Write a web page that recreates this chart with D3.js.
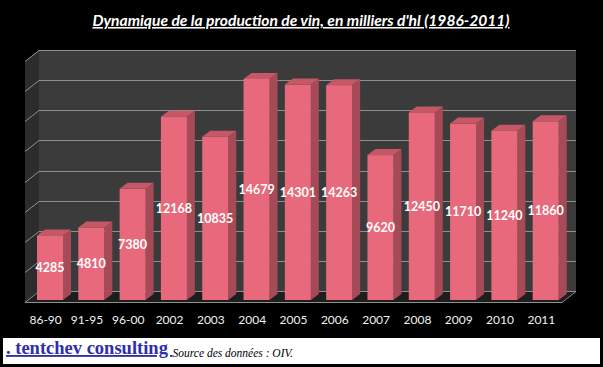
<!DOCTYPE html>
<html>
<head>
<meta charset="utf-8">
<script src="https://cdn.jsdelivr.net/npm/d3@7"></script>
<style>
  body { margin: 0; background: #000; }
  svg { display: block; }
</style>
</head>
<body>
<script>
// data
var categories = ["86-90", "91-95", "96-00", "2002", "2003", "2004", "2005", "2006", "2007", "2008", "2009", "2010", "2011"];
var production = [4285, 4810, 7380, 12168, 10835, 14679, 14301, 14263, 9620, 12450, 11710, 11240, 11860];
var yTicks = [0, 2000, 4000, 6000, 8000, 10000, 12000, 14000, 16000];

const width = 603, height = 367;
const DX = 14, DY = -11;      // wall depth (front -> back)
const BDX = 8, BDY = -6;      // bar depth
const barOff = 12, barW = 26;

const svg = d3.select("body").append("svg").attr("width", width).attr("height", height);
svg.append("rect").attr("width", width).attr("height", height).attr("fill", "#000");

const x = d3.scaleBand().domain(categories).range([25, 562]);
const yFront = d3.scaleLinear().domain([0, 16000]).range([300, 59]);
const yBack = d3.scaleLinear().domain([0, 16000]).range([302 + DY, 61 + DY]);

const x0 = 25, x1 = 562;

// back wall
svg.append("rect")
  .attr("x", x0 + DX).attr("y", yBack(16000))
  .attr("width", x1 - x0).attr("height", yBack(0) - yBack(16000))
  .attr("fill", "#3b3b3b");
// side wall
svg.append("path")
  .attr("d", `M${x0},${yBack(16000) - DY}L${x0 + DX},${yBack(16000)}L${x0 + DX},${yBack(0)}L${x0},${yBack(0) - DY}Z`)
  .attr("fill", "#2c2c2c");
// floor
svg.append("path")
  .attr("d", `M${x0},${yBack(0) - DY}L${x0 + DX},${yBack(0)}L${x1 + DX},${yBack(0)}L${x1},${yBack(0) - DY}Z`)
  .attr("fill", "#1e1e1e");

// gridlines
const grid = svg.append("g").attr("stroke", "#8f8f8f").attr("stroke-width", 1).attr("fill", "none");
yTicks.forEach(function(t) {
  const yb = Math.round(yBack(t)) + 0.5;
  grid.append("path").attr("d", `M${x0},${yb - DY}L${x0 + DX},${yb}L${x1 + DX},${yb}`);
});
// floor front edge
grid.append("path").attr("d", `M${x0},${yBack(0) - DY + 0.5}L${x1},${yBack(0) - DY + 0.5}L${x1 + DX},${yBack(0) + 0.5}`);

// bars
const bars = svg.append("g").selectAll("g").data(production).join("g");
bars.each(function(v, i) {
  const g = d3.select(this);
  const bx = x(categories[i]) + barOff;
  const top = yFront(v), bot = yFront(0);
  g.append("path")
    .attr("d", `M${bx + barW},${top}L${bx + barW + BDX},${top + BDY}L${bx + barW + BDX},${bot + BDY}L${bx + barW},${bot}Z`)
    .attr("fill", "#a54a56");
  g.append("path")
    .attr("d", `M${bx},${top}L${bx + BDX},${top + BDY}L${bx + barW + BDX},${top + BDY}L${bx + barW},${top}Z`)
    .attr("fill", "#c65766");
  g.append("rect")
    .attr("x", bx).attr("y", top).attr("width", barW).attr("height", bot - top)
    .attr("fill", "#e8697b");
  g.append("text")
    .attr("x", bx + barW / 2).attr("y", (top + bot) / 2)
    .attr("text-anchor", "middle").attr("dominant-baseline", "central")
    .attr("font-family", "Lato, sans-serif").attr("font-weight", "bold").attr("font-size", 12.5)
    .attr("fill", "#fff")
    .text(v);
});

// category labels
svg.append("g").selectAll("text").data(categories).join("text")
  .attr("x", d => x(d) + x.bandwidth() / 2)
  .attr("y", 324)
  .attr("text-anchor", "middle")
  .attr("font-family", "Lato, sans-serif").attr("font-size", 12)
  .attr("fill", "#f2f2f2")
  .text(d => d);

// title
svg.append("text")
  .attr("x", 301).attr("y", 26)
  .attr("text-anchor", "middle")
  .attr("font-family", "Lato, sans-serif").attr("font-weight", "bold").attr("font-style", "italic")
  .attr("font-size", 15.6).attr("fill", "#fff").attr("text-decoration", "underline")
  .text("Dynamique de la production de vin, en milliers d'hl (1986-2011)");

// footer
svg.append("rect").attr("x", 3).attr("y", 338).attr("width", 597).attr("height", 26).attr("fill", "#fff");
const foot = svg.append("text").attr("x", 6).attr("y", 354).attr("font-family", "Liberation Serif, serif");
foot.append("tspan").attr("font-size", 18.5).attr("font-weight", "bold").attr("fill", "#2e2ea6")
  .attr("text-decoration", "underline").text(". tentchev consulting\u00a0");
foot.append("tspan").attr("font-size", 11.5).attr("font-style", "italic").attr("fill", "#000").attr("dy", 3)
  .text("Source des données : OIV.");
</script>
</body>
</html>
